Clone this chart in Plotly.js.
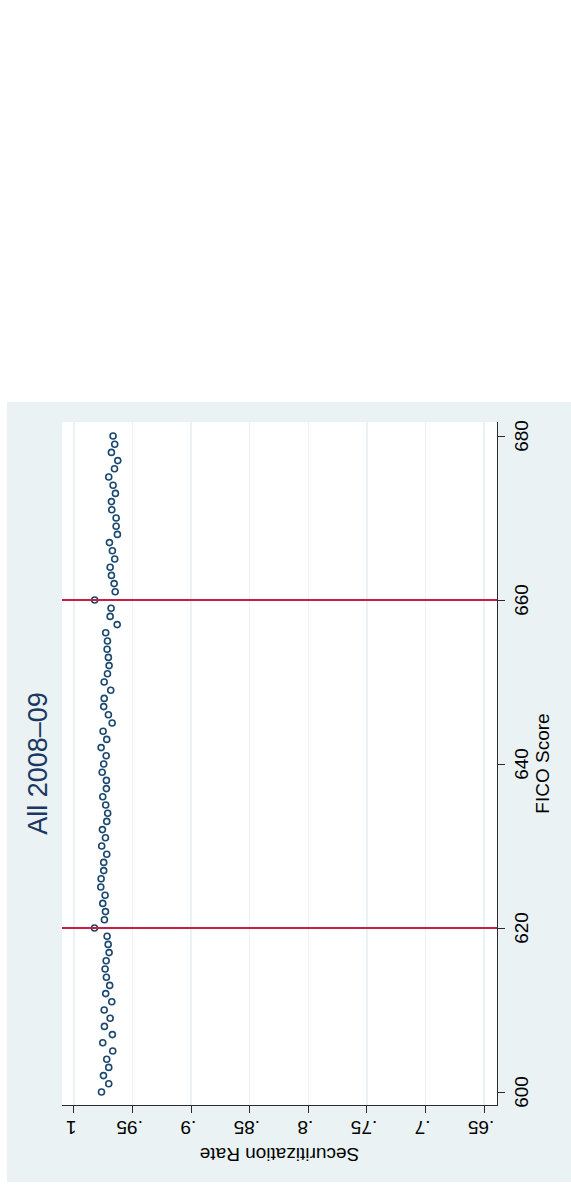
<!DOCTYPE html>
<html>
<head>
<meta charset="utf-8">
<script src="https://cdn.plot.ly/plotly-3.0.1.min.js"></script>
<style>
  html, body { margin: 0; padding: 0; background: #ffffff; width: 571px; height: 1186px; overflow: hidden; }
  #wrap { position: absolute; left: 7px; top: 1182px; width: 780px; height: 564px;
          transform-origin: 0 0; transform: rotate(-90deg); }
  #chart { width: 780px; height: 564px; }
</style>
</head>
<body>
<div id="wrap"><div id="chart"></div></div>
<script>
// FICO score bins
const fico = [600,601,602,603,604,605,606,607,608,609,
              610,611,612,613,614,615,616,617,618,619,
              620,621,622,623,624,625,626,627,628,629,
              630,631,632,633,634,635,636,637,638,639,
              640,641,642,643,644,645,646,647,648,649,
              650,651,652,653,654,655,656,657,658,659,
              660,661,662,663,664,665,666,667,668,669,
              670,671,672,673,674,675,676,677,678,679,680];
// Securitization rate per FICO bin
const rate = [0.9765,0.9703,0.9748,0.9703,0.9720,0.9669,0.9754,0.9672,0.9740,0.9691,
              0.9742,0.9677,0.9729,0.9695,0.9723,0.9734,0.9725,0.9700,0.9708,0.9717,
              0.9825,0.9740,0.9731,0.9754,0.9734,0.9771,0.9768,0.9746,0.9746,0.9720,
              0.9763,0.9731,0.9757,0.9720,0.9712,0.9729,0.9754,0.9723,0.9723,0.9759,
              0.9746,0.9725,0.9768,0.9720,0.9751,0.9674,0.9706,0.9746,0.9742,0.9686,
              0.9742,0.9714,0.9700,0.9706,0.9717,0.9714,0.9729,0.9631,0.9691,0.9683,
              0.9823,0.9648,0.9657,0.9680,0.9691,0.9652,0.9672,0.9697,0.9629,0.9640,
              0.9640,0.9677,0.9680,0.9646,0.9666,0.9703,0.9654,0.9626,0.9680,0.9652,0.9666];
// Cutoff lines
const cutoffs = [620, 660];
// Axis ticks
const xTicks = [600, 620, 640, 660, 680];
const yTicks = [0.65, 0.7, 0.75, 0.8, 0.85, 0.9, 0.95, 1];
const yTickText = ['.65', '.7', '.75', '.8', '.85', '.9', '.95', '1'];

const FONT = 'Liberation Sans, Arial, Helvetica, sans-serif';
const navy = '#1a476f';
const titleNavy = '#1c3761';

const traces = [{
  type: 'scatter', mode: 'markers', x: fico, y: rate,
  marker: { symbol: 'circle-open', size: 6, color: navy, line: { color: navy, width: 1.6 } },
  hoverinfo: 'skip', showlegend: false
}];

const shapes = cutoffs.map(c => ({
  type: 'line', xref: 'x', yref: 'paper', x0: c, x1: c, y0: 0, y1: 1,
  line: { color: '#C81E45', width: 2 }, layer: 'above'
}));

const layout = {
  width: 780, height: 564,
  paper_bgcolor: '#EAF2F3', plot_bgcolor: '#FFFFFF',
  margin: { l: 77, r: 20, t: 55, b: 74, pad: 0 },
  font: { family: FONT, color: '#000000', size: 19 },
  title: { text: 'All 2008\u201309', font: { family: FONT, size: 27, color: titleNavy },
           xref: 'paper', x: 0.5, xanchor: 'center', yref: 'container', y: 1 - 31/564, yanchor: 'middle' },
  xaxis: {
    range: [598.415, 681.71], tickmode: 'array', tickvals: xTicks, ticktext: xTicks.map(String),
    ticks: 'outside', ticklen: 7, tickwidth: 1, tickcolor: '#2b2b2b',
    showline: true, linecolor: '#2b2b2b', linewidth: 1, mirror: false,
    showgrid: false, zeroline: false, automargin: false,
    tickfont: { family: FONT, size: 19, color: '#000' },
    title: { text: 'FICO Score', font: { family: FONT, size: 19, color: '#000' }, standoff: 0 }
  },
  yaxis: {
    range: [0.6389, 1.0102], tickmode: 'array', tickvals: yTicks, ticktext: yTickText, tickangle: -90,
    ticks: 'outside', ticklen: 7, tickwidth: 1, tickcolor: '#2b2b2b',
    showline: true, linecolor: '#2b2b2b', linewidth: 1, mirror: false,
    showgrid: true, gridcolor: '#EAF2F3', gridwidth: 1.5, zeroline: false, automargin: false,
    tickfont: { family: FONT, size: 19, color: '#000' },
    title: { text: 'Securitization Rate', font: { family: FONT, size: 19, color: '#000' }, standoff: 4 }
  },
  shapes: shapes,
  showlegend: false
};

Plotly.newPlot('chart', traces, layout, { displayModeBar: false, staticPlot: true });
</script>
</body>
</html>
